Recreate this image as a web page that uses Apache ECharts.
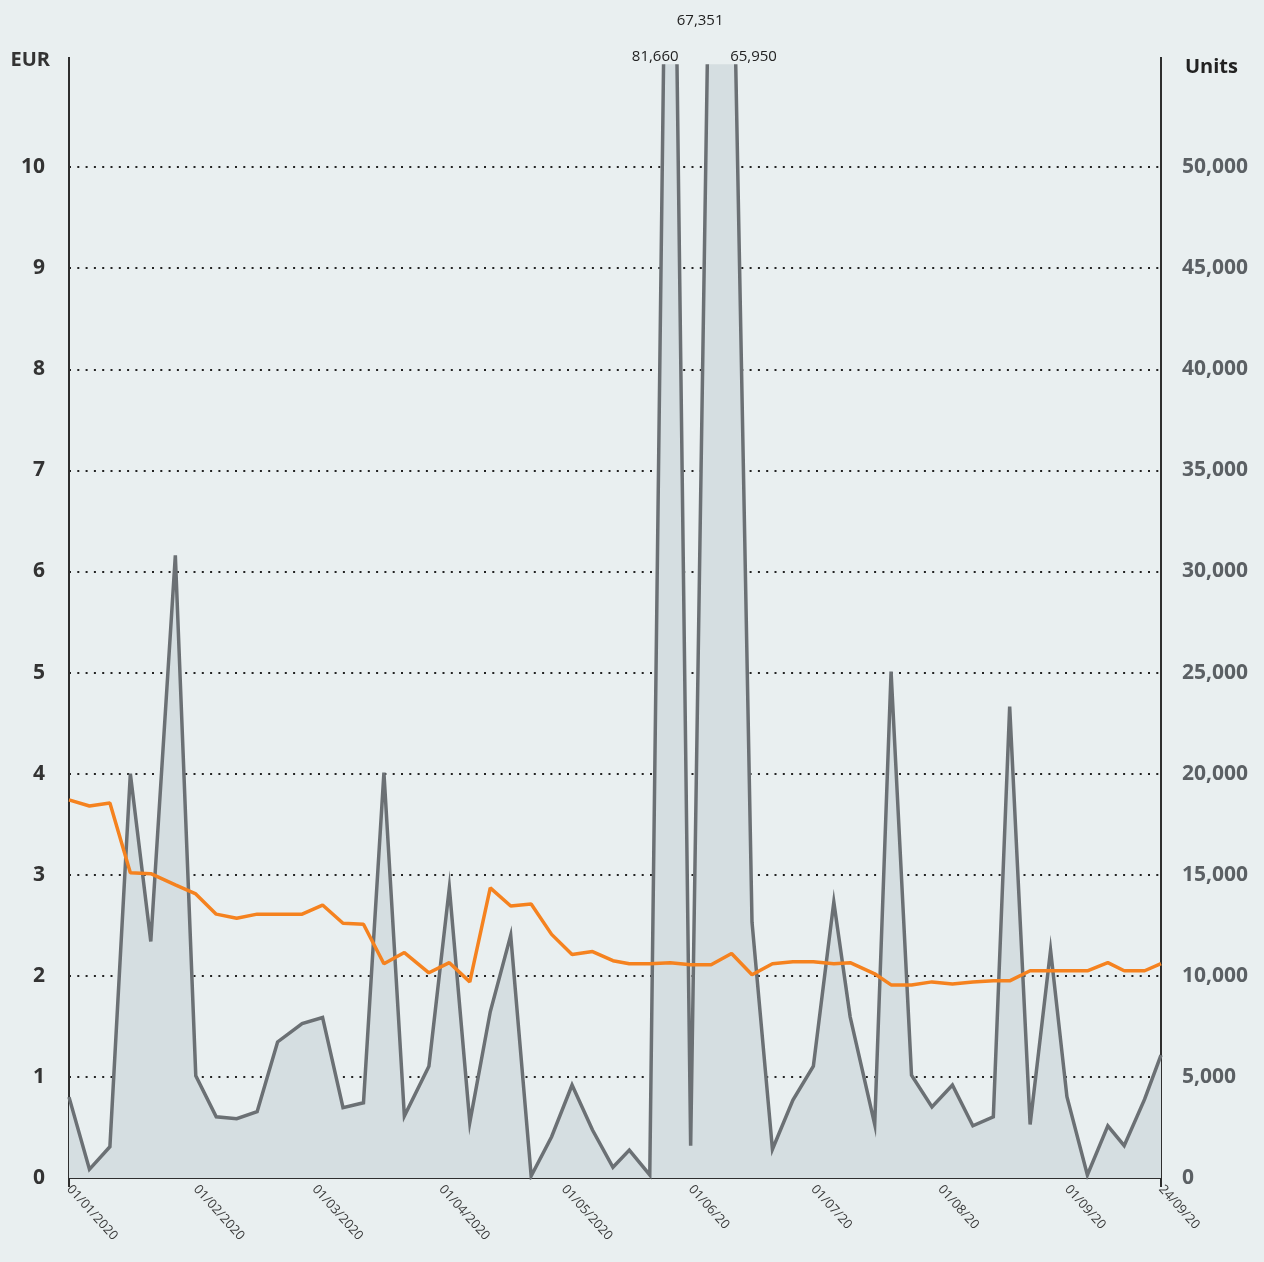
<!DOCTYPE html>
<html>
<head>
<meta charset="utf-8">
<script src="https://cdn.jsdelivr.net/npm/echarts@6/dist/echarts.min.js"></script>
<style>
html,body{margin:0;padding:0;background:#e9eff0;}
#c{width:1264px;height:1262px;}
</style>
</head>
<body>
<div id="c"></div>
<script>
const dates = ['2020-01-01','2020-01-06','2020-01-11','2020-01-16','2020-01-21','2020-01-27','2020-02-01','2020-02-06','2020-02-11','2020-02-16','2020-02-21','2020-02-27','2020-03-03','2020-03-08','2020-03-13','2020-03-18','2020-03-23','2020-03-29','2020-04-03','2020-04-08','2020-04-13','2020-04-18','2020-04-23','2020-04-28','2020-05-03','2020-05-08','2020-05-13','2020-05-17','2020-05-22','2020-05-27','2020-06-01','2020-06-06','2020-06-11','2020-06-16','2020-06-21','2020-06-26','2020-07-01','2020-07-06','2020-07-10','2020-07-16','2020-07-20','2020-07-25','2020-07-30','2020-08-04','2020-08-09','2020-08-14','2020-08-18','2020-08-23','2020-08-28','2020-09-01','2020-09-06','2020-09-11','2020-09-15','2020-09-20','2020-09-24'];
const units = [4000,430,1550,20000,11700,30800,5050,3030,2930,3280,6730,7640,7940,3480,3720,20050,3060,5530,14360,2750,8220,12000,100,2040,4600,2370,530,1380,150,81660,1600,67351,65950,12650,1420,3850,5530,13650,7970,2650,25050,5090,3520,4600,2580,3030,23320,2650,11270,4020,150,2580,1600,3900,6080];
const eur = [3.74,3.68,3.71,3.02,3.01,2.90,2.81,2.61,2.57,2.61,2.61,2.61,2.70,2.52,2.51,2.12,2.23,2.03,2.13,1.94,2.87,2.69,2.71,2.41,2.21,2.24,2.15,2.12,2.12,2.13,2.11,2.11,2.22,2.01,2.12,2.14,2.14,2.12,2.13,2.02,1.91,1.91,1.94,1.92,1.94,1.95,1.95,2.05,2.05,2.05,2.05,2.13,2.05,2.05,2.12];
const tickDates = ['2020-01-01','2020-02-01','2020-03-01','2020-04-01','2020-05-01','2020-06-01','2020-07-01','2020-08-01','2020-09-01','2020-09-24'];
const tickLabels = ['01/01/2020','01/02/2020','01/03/2020','01/04/2020','01/05/2020','01/06/20','01/07/20','01/08/20','01/09/20','24/09/20'];
const eurTicks = [0,1,2,3,4,5,6,7,8,9,10];
const unitTicks = [0,5000,10000,15000,20000,25000,30000,35000,40000,45000,50000];
const peakDates = ['2020-05-27','2020-06-06','2020-06-11'];
const peakValues = [81660,67351,65950];

function dayNum(s){const p=s.split('-').map(Number);return Math.round((Date.UTC(p[0],p[1]-1,p[2])-Date.UTC(2020,0,1))/86400000);}
const tickDays = tickDates.map(dayNum);
const UNIT_MAX = 55000, EUR_MAX = 11;
const X_MIN = dayNum(dates[0]), X_MAX = dayNum(dates[dates.length-1]);

const peakOffsets = [[-15,-9],[-11,-45],[22,-9]];
const markData = peakDates.map((d,i)=>({
  coord:[dayNum(d), UNIT_MAX],
  value: peakValues[i],
  label:{offset: peakOffsets[i]}
}));

const chart = echarts.init(document.getElementById('c'), null, {renderer:'canvas'});
const fontFam = '"Open Sans", "Noto Sans", sans-serif';
const AXIS_COLOR = '#2e2e2e';
chart.setOption({
  backgroundColor:'#e9eff0',
  animation:false,
  textStyle:{fontFamily:fontFam},
  grid:{left:69,right:103,top:66,bottom:84,containLabel:false},
  xAxis:{
    type:'value',
    min:X_MIN, max:X_MAX,
    axisLine:{show:true,onZero:false,lineStyle:{color:AXIS_COLOR,width:2}},
    axisTick:{show:false},
    splitLine:{show:false},
    axisLabel:{
      customValues:tickDays,
      formatter:function(v){const k=tickDays.indexOf(Math.round(+v));return k>=0?tickLabels[k]:'';},
      rotate:-48, fontSize:13, color:'#3a3a3a', margin:9, fontFamily:fontFam,
      showMinLabel:true, showMaxLabel:true, hideOverlap:false
    }
  },
  yAxis:[{
    type:'value', position:'left', min:0, max:EUR_MAX, interval:1,
    name:'EUR', nameLocation:'end', nameGap:6,
    nameTextStyle:{fontSize:20,fontWeight:'bold',color:'#333',align:'right',verticalAlign:'middle',padding:[0,19,0,0],fontFamily:fontFam},
    axisLine:{show:true,lineStyle:{color:AXIS_COLOR,width:2}},
    axisTick:{show:false},
    axisLabel:{fontSize:21,fontWeight:'bold',color:'#333',margin:24,fontFamily:fontFam,
      formatter:function(v){return eurTicks.indexOf(v)>=0?String(v):'';}},
    splitLine:{show:true,showMinLine:false,showMaxLine:false,lineStyle:{color:'#222',width:2,type:[2,6.3]}}
  },{
    type:'value', position:'right', min:0, max:UNIT_MAX, interval:5000,
    name:'Units', nameLocation:'end', nameGap:-1,
    nameTextStyle:{fontSize:20,fontWeight:'bold',color:'#222',align:'left',verticalAlign:'middle',padding:[0,0,0,24],fontFamily:fontFam},
    axisLine:{show:true,lineStyle:{color:AXIS_COLOR,width:2}},
    axisTick:{show:false},
    axisLabel:{fontSize:21,fontWeight:'bold',color:'#5b6064',margin:21,fontFamily:fontFam,
      formatter:function(v){return unitTicks.indexOf(v)>=0?v.toLocaleString('en-US'):'';}},
    splitLine:{show:false}
  }],
  series:[{
    name:'Units', type:'line', yAxisIndex:1, clip:true,
    data:dates.map((d,i)=>[dayNum(d),units[i]]),
    symbol:'none',
    lineStyle:{color:'#6b7074',width:3.5,join:'miter'},
    areaStyle:{color:'#d5dee1',opacity:1},
    z:2,
    markPoint:{
      symbol:'circle', symbolSize:0, silent:true,
      label:{show:true,position:'inside',fontSize:15,color:'#222',fontFamily:fontFam,
        formatter:function(p){return p.value.toLocaleString('en-US');}},
      data:markData
    }
  },{
    name:'EUR', type:'line', yAxisIndex:0,
    data:dates.map((d,i)=>[dayNum(d),eur[i]]),
    symbol:'none',
    lineStyle:{color:'#f5821f',width:3.5},
    z:3
  }]
});

// extend the vertical axis lines slightly beyond the plot area, as in the original
const pBL = chart.convertToPixel({xAxisIndex:0,yAxisIndex:0},[X_MIN,0]);
const pTR = chart.convertToPixel({xAxisIndex:0,yAxisIndex:0},[X_MAX,EUR_MAX]);
const ext = (x)=>[
  {type:'line',shape:{x1:x,y1:pTR[1]-9,x2:x,y2:pTR[1]},style:{stroke:AXIS_COLOR,lineWidth:2},silent:true},
  {type:'line',shape:{x1:x,y1:pBL[1],x2:x,y2:pBL[1]+9},style:{stroke:AXIS_COLOR,lineWidth:2},silent:true}
];
chart.setOption({graphic:[].concat(ext(pBL[0]),ext(pTR[0]))});
</script>
</body>
</html>
